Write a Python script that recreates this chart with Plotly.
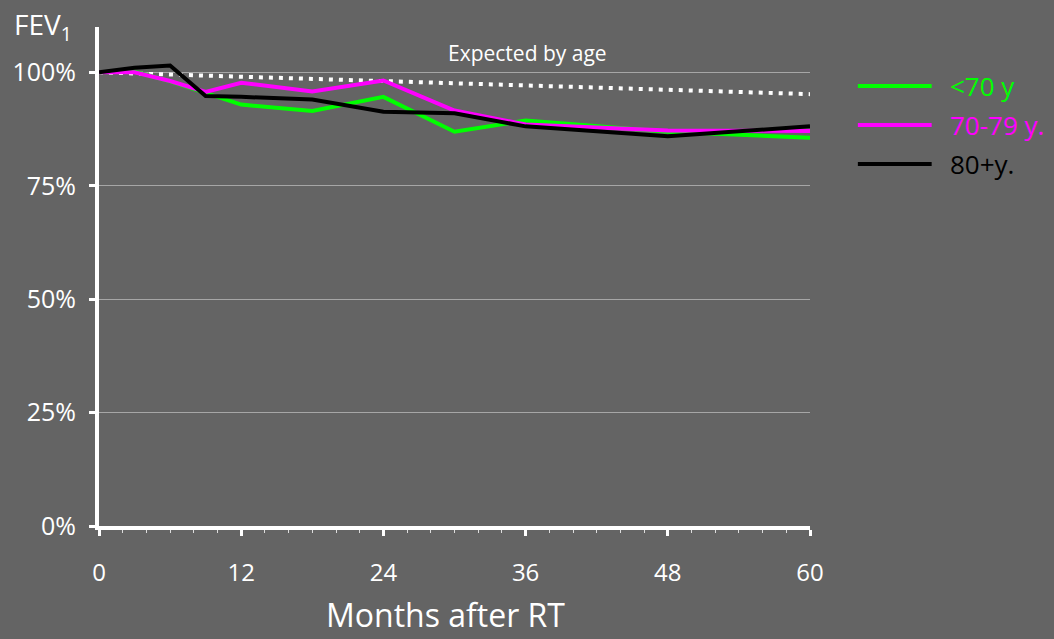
import plotly.graph_objects as go

# ---- data ----
months = [0, 3, 6, 9, 12, 18, 24, 30, 36, 48, 60]
fev_lt70 = [100, 100.2, 98.0, 95.4, 92.9, 91.5, 94.6, 86.9, 89.4, 86.9, 85.6]
fev_70_79 = [100, 100.0, 98.1, 95.7, 97.7, 95.8, 98.2, 91.6, 88.5, 87.2, 87.1]
fev_80p = [100, 101.0, 101.5, 94.8, 94.6, 94.0, 91.3, 91.0, 88.1, 85.9, 88.1]
expected_months = [0, 60]
expected_fev = [100, 95.2]

series_names = ["<70 y", "70-79 y.", "80+y."]
series_colors = ["#00ff00", "#ff00ff", "#000000"]
x_ticks = [0, 12, 24, 36, 48, 60]
y_ticks = [0, 25, 50, 75, 100]
y_ticklabels = ["0%", "25%", "50%", "75%", "100%"]

BG = "#646464"
FONT = "Open Sans"

fig = go.Figure()
fig.add_trace(go.Scatter(x=expected_months, y=expected_fev, mode="lines",
                         line=dict(color="white", width=4, dash="4px,6px"),
                         showlegend=False, hoverinfo="skip"))
for vals, name, col in zip([fev_lt70, fev_70_79, fev_80p], series_names, series_colors):
    fig.add_trace(go.Scatter(x=months, y=vals, mode="lines", name=name,
                             line=dict(color=col, width=4), showlegend=False))

# manual legend
leg_y = [86, 125, 164]
annotations = []
shapes = []
for yy, name, col in zip(leg_y, series_names, series_colors):
    shapes.append(dict(type="line", xref="paper", yref="paper",
                       x0=(858 - 97) / 713, x1=(932 - 97) / 713,
                       y0=1 - (yy - 27) / 499, y1=1 - (yy - 27) / 499,
                       line=dict(color=col, width=4)))
    annotations.append(dict(xref="paper", yref="paper", x=(948 - 97) / 713,
                            y=1 - (yy - 27) / 499, text=name, showarrow=False,
                            xanchor="left", yanchor="middle",
                            font=dict(family=FONT, size=26, color=col)))

annotations.append(dict(xref="paper", yref="paper", x=(10 - 97) / 713,
                        y=1 - (26 - 27) / 499, text="FEV<sub>1</sub>", showarrow=False,
                        xanchor="left", yanchor="middle",
                        font=dict(family=FONT, size=28, color="white")))
annotations.append(dict(xref="x", yref="paper", x=36.2, y=1 - (53 - 27) / 499,
                        text="Expected by age", showarrow=False,
                        xanchor="center", yanchor="middle",
                        font=dict(family=FONT, size=21, color="white")))
annotations.append(dict(xref="paper", yref="paper", x=(444 - 97) / 713,
                        y=1 - (614 - 27) / 499, text="Months after RT", showarrow=False,
                        xanchor="center", yanchor="middle",
                        font=dict(family=FONT, size=32, color="white")))

fig.update_layout(
    width=1054, height=639,
    paper_bgcolor=BG, plot_bgcolor=BG,
    margin=dict(l=97, r=244, t=27, b=113),
    showlegend=False,
    shapes=shapes, annotations=annotations,
    xaxis=dict(range=[0, 60], tickvals=x_ticks, showgrid=False, zeroline=False,
               showline=True, linecolor="white", linewidth=4,
               ticks="outside", ticklen=6, tickwidth=3, tickcolor="white",
               ticklabelstandoff=16,
               minor=dict(dtick=2, ticks="outside", ticklen=3, tickwidth=1, tickcolor="#dddddd"),
               tickfont=dict(family=FONT, size=24, color="white")),
    yaxis=dict(range=[0, 110], tickvals=y_ticks, ticktext=y_ticklabels,
               showgrid=True, gridcolor="#a6a6a6", gridwidth=1, zeroline=False,
               showline=True, linecolor="white", linewidth=4,
               ticks="outside", ticklen=6, tickwidth=3, tickcolor="white",
               ticklabelstandoff=8,
               tickfont=dict(family=FONT, size=25, color="white")),
)

fig.write_html("out.html", config={"displayModeBar": False},
               post_script="document.body.style.margin='0px';document.body.style.background='%s';" % BG)
